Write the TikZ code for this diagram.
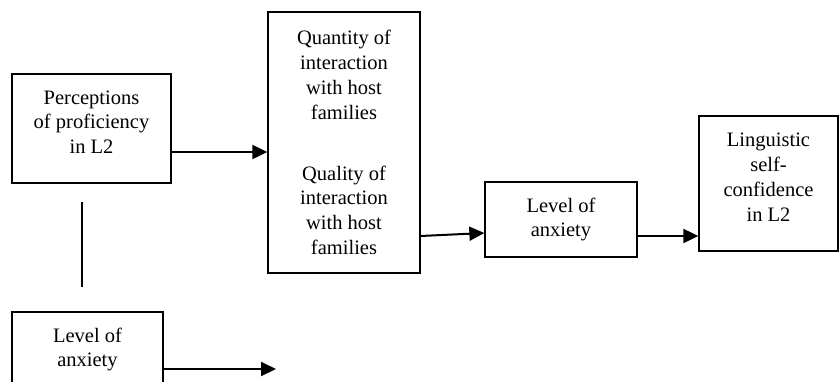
\documentclass[tikz,border=0pt]{standalone}
\usepackage{fontspec}
\setmainfont{Liberation Serif}
\usetikzlibrary{arrows.meta,calc}

\begin{document}
\begin{tikzpicture}[
    x=1pt, y=-1pt,
    blk/.style={rectangle, draw=black, line width=1.3pt, inner sep=0pt, align=center, font=\fontsize{20.5}{24.8}\selectfont},
    arr/.style={line width=2pt, -{Triangle[length=15pt,width=14pt]}}
  ]
    \clip (0,0) rectangle (839,381);
    \node[blk, minimum width=159pt, minimum height=109pt] (perc) at (91.5,128.5) {Perceptions\\of proficiency\\in L2\\[-12pt]\mbox{}};
    \node[blk, minimum width=152pt, minimum height=261pt] (inter) at (344,142.5) {Quantity of\\interaction\\with host\\families\\[36pt]Quality of\\interaction\\with host\\families};
    \node[blk, minimum width=152pt, minimum height=75pt] (anx) at (561,219.5) {Level of\\anxiety};
    \node[blk, minimum width=139pt, minimum height=135pt] (conf) at (768.5,183.5) {Linguistic\\self-\\confidence\\in L2\\[-12pt]\mbox{}};
    \node[blk, minimum width=151pt, minimum height=75pt] (anxlow) at (87.5,349.5) {Level of\\anxiety};
    % free ends
    \coordinate (vtop) at (82,202);
    \coordinate (vbot) at (82,287);
    \coordinate (lowend) at (276,369);
    % connectors
    \draw[arr] ([yshift=-23.5pt]perc.east) -- ([yshift=-23.5pt]perc.east -| inter.west);
    \draw[arr] ([yshift=-93.5pt]inter.east) -- ([yshift=-13.5pt]anx.west);
    \draw[arr] ([yshift=-16.5pt]anx.east) -- ([yshift=-16.5pt]anx.east -| conf.west);
    \draw[line width=1.3pt] (vtop) -- (vbot);
    \draw[arr] (anxlow.east |- lowend) -- (lowend);
  \end{tikzpicture}
\end{document}
